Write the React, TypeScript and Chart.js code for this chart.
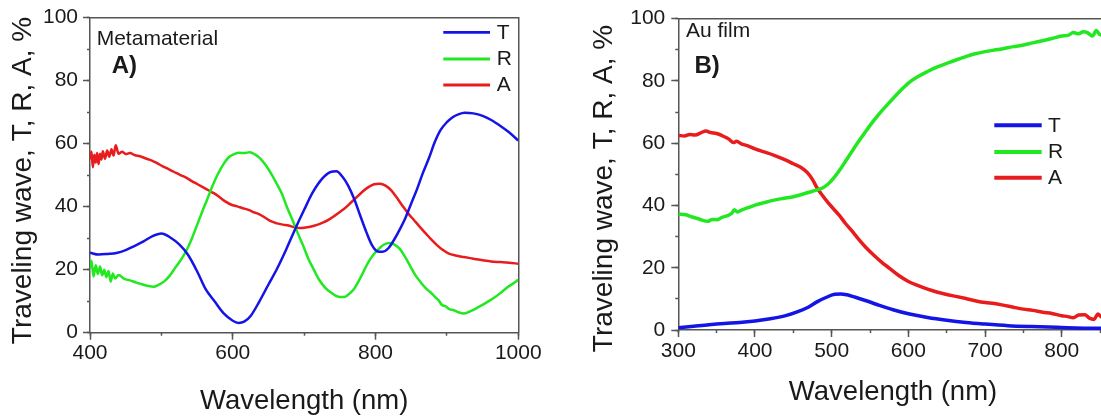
import React, { useEffect, useRef } from 'react';
import { Chart, registerables } from 'chart.js';

Chart.register(...registerables);

// ---------- Panel A: Metamaterial ----------
const metaT_wl = [400, 412, 425, 437, 450, 462, 475, 487, 500, 512, 525, 537, 550, 562, 575, 587, 600, 608, 616, 625, 637, 650, 662, 675, 687, 700, 712, 725, 737, 745, 754, 762, 770, 778, 787, 795, 803, 810, 818, 826, 834, 842, 850, 858, 866, 875, 883, 891, 900, 908, 916, 925, 937, 950, 962, 975, 987, 1000];
const metaT = [25.4, 24.8, 25, 25.3, 26.2, 27.5, 29, 30.6, 31.5, 30.3, 28, 24.8, 19.5, 13.8, 9.8, 6.2, 3.8, 3.1, 3.5, 5.3, 9.8, 15.3, 20.3, 26.5, 32.7, 39, 44.5, 48.8, 51, 51.2, 49.4, 46.5, 42.5, 37.5, 32, 27.8, 25.8, 25.7, 26.8, 29.5, 32.8, 36.5, 41, 45.5, 50.5, 55.5, 60.5, 64.3, 66.8, 68.4, 69.3, 69.8, 69.6, 68.8, 67.5, 65.6, 63.6, 61];

const metaR_wl = [400, 402, 405, 408, 411, 414, 417, 420, 423, 426, 429, 432, 435, 440, 448, 456, 465, 474, 482, 489, 496, 504, 512, 519, 527, 534, 542, 549, 557, 564, 572, 579, 587, 594, 602, 609, 616, 624, 631, 639, 646, 654, 661, 669, 676, 684, 691, 699, 706, 714, 721, 729, 737, 744, 750, 756, 762, 769, 776, 784, 791, 799, 806, 812, 819, 826, 834, 841, 849, 856, 864, 871, 879, 884, 888, 893, 898, 904, 909, 916, 924, 934, 944, 954, 964, 974, 984, 992, 1000];
const metaR = [20.5, 22.8, 17.8, 21.4, 18.6, 21, 18.2, 20, 17.6, 19.6, 16.2, 18.8, 17.2, 18.3, 17.1, 16.6, 15.9, 15.3, 14.8, 14.6, 15.2, 16.3, 18.2, 20.5, 23, 25.6, 29.5, 33.6, 38.3, 42.2, 46.8, 50.3, 53.5, 55.6, 56.7, 57.1, 57.0, 57.3, 56.6, 55.2, 53.2, 50.4, 47.5, 44, 39.8, 35.6, 31.6, 27.4, 23.4, 19.8, 16.8, 14.4, 12.8, 11.8, 11.3, 11.3, 12.1, 13.6, 16.2, 19.8, 22.8, 25.3, 26.9, 28, 28.5, 28, 26.6, 24.2, 21, 18.2, 15.8, 14, 12.4, 11.2, 10.4, 8.8, 8.4, 7.4, 7.2, 6.5, 6.1, 6.9, 8.1, 9.4, 10.8, 12.4, 14.3, 15.5, 16.8];

const metaA_wl = [400, 402, 404, 406, 408, 410, 412, 414, 416, 418, 421, 424, 427, 430, 433, 436, 440, 445, 450, 456, 463, 470, 478, 486, 494, 502, 510, 518, 526, 534, 542, 550, 558, 566, 574, 582, 590, 598, 606, 614, 622, 630, 638, 646, 654, 662, 670, 678, 686, 694, 702, 710, 718, 726, 734, 742, 750, 758, 766, 774, 782, 790, 798, 806, 814, 822, 830, 838, 846, 854, 862, 870, 878, 886, 894, 902, 912, 924, 937, 950, 962, 975, 987, 1000];
const metaA = [55, 57.5, 52.5, 56.5, 54, 57, 53.5, 56.8, 55, 57.6, 55.2, 57.8, 55.8, 58.2, 56.2, 59.5, 56.8, 57.4, 56.7, 57, 56.3, 56, 55.3, 54.7, 53.8, 52.8, 51.9, 51, 50.1, 49.3, 48.2, 47.2, 46.2, 45.2, 44.2, 42.9, 41.6, 40.6, 40.1, 39.5, 39, 38.2, 37.5, 36.4, 35.3, 34.7, 34.3, 34, 33.5, 33.2, 33.4, 33.7, 34.2, 34.9, 35.8, 37, 38.3, 39.7, 41.4, 43.1, 44.8, 46.2, 47.1, 47.3, 46.7, 45.2, 42.8, 40.2, 37.8, 35.7, 33.6, 31.6, 29.6, 27.8, 26.3, 25.2, 24.5, 24, 23.5, 23, 22.6, 22.4, 22.2, 21.9];

// ---------- Panel B: Au film ----------
const auT_wl = [300, 320, 340, 360, 380, 400, 420, 440, 455, 470, 482, 494, 504, 512, 520, 530, 545, 560, 580, 600, 625, 650, 675, 700, 730, 760, 800, 830, 860];
const auT = [0.7, 1.2, 1.7, 2.1, 2.4, 2.9, 3.6, 4.6, 5.8, 7.4, 9.2, 10.6, 11.5, 11.6, 11.3, 10.6, 9.4, 8.1, 6.5, 5.2, 4, 3.1, 2.4, 1.9, 1.4, 1.1, 0.8, 0.6, 0.5];

const auR_wl = [300, 310, 318, 325, 332, 338, 344, 350, 357, 364, 370, 373, 377, 383, 390, 400, 412, 425, 438, 450, 462, 472, 481, 488, 495, 502, 510, 518, 525, 535, 545, 555, 565, 575, 587, 600, 612, 625, 637, 650, 662, 675, 687, 700, 712, 725, 737, 750, 762, 775, 787, 800, 808, 815, 822, 828, 834, 840, 845, 850, 856, 860];
const auR = [37.2, 37, 36.3, 35.8, 35.2, 34.9, 35.5, 35.4, 36.2, 36.7, 37.6, 38.6, 37.9, 38.6, 39.2, 40.1, 40.9, 41.7, 42.3, 42.8, 43.6, 44.3, 45, 45.6, 46.8, 48.6, 51.2, 54.2, 56.8, 60.5, 64, 67.3, 70.3, 73, 76.2, 79.3, 81.3, 83, 84.4, 85.6, 86.7, 87.8, 88.7, 89.4, 89.9, 90.4, 91, 91.5, 92.2, 92.9, 93.6, 94.4, 94.6, 95.5, 95.1, 95.8, 95.4, 94.4, 96.2, 94.8, 95.3, 94.9];

const auA_wl = [300, 308, 315, 322, 330, 336, 342, 350, 358, 366, 372, 376, 382, 390, 400, 412, 425, 438, 450, 460, 468, 475, 481, 488, 495, 502, 510, 518, 525, 535, 545, 555, 565, 575, 587, 600, 612, 625, 637, 650, 662, 675, 687, 700, 712, 725, 737, 750, 762, 775, 787, 800, 808, 815, 822, 830, 836, 842, 847, 852, 860];
const auA = [62.5, 62.3, 62.8, 62.6, 63.4, 63.9, 63.4, 63.1, 62.3, 61.3, 60.2, 60.6, 59.8, 59.2, 58.2, 57.2, 56.1, 54.8, 53.4, 52.2, 50.6, 48.3, 45.6, 43.2, 41, 39, 36.8, 34.2, 32.2, 29.2, 26.4, 24, 21.8, 19.9, 17.6, 15.6, 14.3, 13.1, 12.2, 11.4, 10.8, 10.1, 9.4, 8.8, 8.5, 7.9, 7.3, 6.7, 6.3, 5.7, 5.3, 4.6, 4.3, 3.9, 4.8, 4.9, 3.8, 3.4, 5.1, 4.2, 4.6];

const seriesLabels = ['T', 'R', 'A'];
const Y_TITLE = 'Traveling wave, T, R, A, %';
const X_TITLE = 'Wavelength (nm)';

const FONT = '"Liberation Sans", Arial, Helvetica, sans-serif';
const AXIS = '#555555';
const TEXT = '#1a1a1a';
const COLORS = ['#1414e6', '#22e822', '#e81c1c'];

const pts = (xs: number[], ys: number[]) => xs.map((x, i) => ({ x, y: ys[i] }));

type Cfg = {
  pageLeft: number;
  w: number;
  xMin: number;
  xMax: number;
  xMajor: number;
  xMinor: number;
  pad: { left: number; top: number; right: number; bottom: number };
  yAxisW: number;
  xAxisH: number;
  lineW: number;
  yTickPad: number;
  xTickPad: number;
  xTitlePadBottom: number;
  yTitle: { x: number; y: number; size: number };
  legend: { x1: number; x2: number; ys: number[]; labelX: number; lw: number };
  notes: { text: string; x: number; y: number; size: number; bold: boolean }[];
  series: { x: number; y: number }[][];
};

const LEFT: Cfg = {
  pageLeft: 0,
  w: 560,
  xMin: 400,
  xMax: 1000,
  xMajor: 200,
  xMinor: 100,
  pad: { left: 0, top: 17.3, right: 41.7, bottom: 0 },
  yAxisW: 90,
  xAxisH: 85.3,
  lineW: 2.5,
  yTickPad: 5,
  xTickPad: 1,
  xTitlePadBottom: 0,
  yTitle: { x: 30.5, y: 180.5, size: 28 },
  legend: { x1: 443.3, x2: 490, ys: [32.3, 59, 85], labelX: 496.7, lw: 2.8 },
  notes: [
    { text: 'Metamaterial', x: 96.7, y: 45, size: 21, bold: false },
    { text: 'A)', x: 111.7, y: 73, size: 24, bold: true },
  ],
  series: [pts(metaT_wl, metaT), pts(metaR_wl, metaR), pts(metaA_wl, metaA)],
};

const RIGHT: Cfg = {
  pageLeft: 560,
  w: 570,
  xMin: 300,
  xMax: 860,
  xMajor: 100,
  xMinor: 50,
  pad: { left: 0, top: 15, right: 22.2, bottom: 0 },
  yAxisW: 118.3,
  xAxisH: 88,
  lineW: 3.5,
  yTickPad: 6,
  xTickPad: 2,
  xTitlePadBottom: 9,
  yTitle: { x: 51.8, y: 188.5, size: 28 },
  legend: { x1: 434.3, x2: 481.7, ys: [125.3, 152, 177.7], labelX: 488, lw: 4 },
  notes: [
    { text: 'Au film', x: 126, y: 36.7, size: 21, bold: false },
    { text: 'B)', x: 134.5, y: 73, size: 24, bold: true },
  ],
  series: [pts(auT_wl, auT), pts(auR_wl, auR), pts(auA_wl, auA)],
};

function Panel({ cfg }: { cfg: Cfg }) {
  const ref = useRef<HTMLCanvasElement | null>(null);

  useEffect(() => {
    if (!ref.current) return;

    const decor = {
      id: 'decor',
      afterDraw(chart: any) {
        const ctx = chart.ctx as CanvasRenderingContext2D;
        // y-axis title
        ctx.save();
        ctx.fillStyle = TEXT;
        ctx.font = `${cfg.yTitle.size}px ${FONT}`;
        ctx.translate(cfg.yTitle.x, cfg.yTitle.y);
        ctx.rotate(-Math.PI / 2);
        ctx.textAlign = 'center';
        ctx.textBaseline = 'alphabetic';
        ctx.fillText(Y_TITLE, 0, 0);
        ctx.restore();
        // panel notes
        ctx.save();
        ctx.fillStyle = TEXT;
        ctx.textAlign = 'left';
        ctx.textBaseline = 'alphabetic';
        for (const n of cfg.notes) {
          ctx.font = `${n.bold ? 'bold ' : ''}${n.size}px ${FONT}`;
          ctx.fillText(n.text, n.x, n.y);
        }
        ctx.restore();
        // legend
        ctx.save();
        chart.data.datasets.forEach((ds: any, i: number) => {
          const y = cfg.legend.ys[i];
          ctx.strokeStyle = ds.borderColor;
          ctx.lineWidth = cfg.legend.lw;
          ctx.beginPath();
          ctx.moveTo(cfg.legend.x1, y);
          ctx.lineTo(cfg.legend.x2, y);
          ctx.stroke();
          ctx.fillStyle = TEXT;
          ctx.font = `21px ${FONT}`;
          ctx.textAlign = 'left';
          ctx.textBaseline = 'middle';
          ctx.fillText(ds.label, cfg.legend.labelX, y + 0.5);
        });
        ctx.restore();
      },
    };

    const tickFont = { family: FONT, size: 21 };
    const plain = (v: any) => String(v);

    const chart = new Chart(ref.current, {
      type: 'line',
      data: {
        datasets: cfg.series.map((data, i) => ({
          label: seriesLabels[i],
          data,
          borderColor: COLORS[i],
          backgroundColor: COLORS[i],
          borderWidth: cfg.lineW,
          pointRadius: 0,
          cubicInterpolationMode: 'monotone' as const,
          borderJoinStyle: 'round' as const,
          fill: false,
        })),
      },
      options: {
        responsive: false,
        maintainAspectRatio: false,
        animation: false,
        layout: { padding: cfg.pad },
        plugins: {
          legend: { display: false },
          tooltip: { enabled: false },
        },
        scales: {
          x: {
            type: 'linear',
            position: 'bottom',
            weight: 1,
            min: cfg.xMin,
            max: cfg.xMax,
            afterFit: (s: any) => {
              s.height = cfg.xAxisH;
            },
            ticks: {
              stepSize: cfg.xMajor,
              includeBounds: false,
              autoSkip: false,
              maxRotation: 0,
              minRotation: 0,
              padding: cfg.xTickPad,
              color: TEXT,
              font: tickFont,
              callback: plain,
            },
            grid: { drawOnChartArea: false, tickLength: 7, tickColor: AXIS, tickWidth: 1.5 },
            border: { display: true, color: AXIS, width: 1.5 },
            title: {
              display: true,
              text: X_TITLE,
              color: TEXT,
              font: { family: FONT, size: 27.5 },
              padding: { top: 0, bottom: cfg.xTitlePadBottom },
            },
          },
          xMinor: {
            type: 'linear',
            position: 'bottom',
            weight: 0,
            min: cfg.xMin,
            max: cfg.xMax,
            afterFit: (s: any) => {
              s.height = 0;
            },
            ticks: { stepSize: cfg.xMinor, includeBounds: false, display: false },
            grid: { drawOnChartArea: false, tickLength: 3, tickColor: AXIS, tickWidth: 1.5 },
            border: { display: false },
          },
          y: {
            type: 'linear',
            position: 'left',
            weight: 1,
            min: 0,
            max: 100,
            afterFit: (s: any) => {
              s.width = cfg.yAxisW;
            },
            ticks: { stepSize: 20, padding: cfg.yTickPad, color: TEXT, font: tickFont, callback: plain },
            grid: { drawOnChartArea: false, tickLength: 7, tickColor: AXIS, tickWidth: 1.5 },
            border: { display: true, color: AXIS, width: 1.5 },
          },
          yMinor: {
            type: 'linear',
            position: 'left',
            weight: 0,
            min: 0,
            max: 100,
            afterFit: (s: any) => {
              s.width = 0;
            },
            ticks: { stepSize: 10, display: false },
            grid: { drawOnChartArea: false, tickLength: 3, tickColor: AXIS, tickWidth: 1.5 },
            border: { display: false },
          },
          xTop: {
            type: 'linear',
            position: 'top',
            min: cfg.xMin,
            max: cfg.xMax,
            display: true,
            afterFit: (s: any) => {
              s.height = 0;
            },
            ticks: { display: false },
            grid: { display: false, drawTicks: false },
            border: { display: true, color: AXIS, width: 1.5 },
          },
          yRight: {
            type: 'linear',
            position: 'right',
            min: 0,
            max: 100,
            display: true,
            afterFit: (s: any) => {
              s.width = 0;
            },
            ticks: { display: false },
            grid: { display: false, drawTicks: false },
            border: { display: true, color: AXIS, width: 1.5 },
          },
        },
      },
      plugins: [decor],
    } as any);

    return () => chart.destroy();
  }, [cfg]);

  return (
    <canvas
      ref={ref}
      width={cfg.w}
      height={418}
      style={{ position: 'absolute', left: cfg.pageLeft, top: 0, width: cfg.w, height: 418 }}
    />
  );
}

export default function App() {
  return (
    <div
      style={{
        position: 'fixed',
        left: 0,
        top: 0,
        width: 1101,
        height: 418,
        overflow: 'hidden',
        background: '#ffffff',
      }}
    >
      <Panel cfg={LEFT} />
      <Panel cfg={RIGHT} />
    </div>
  );
}
